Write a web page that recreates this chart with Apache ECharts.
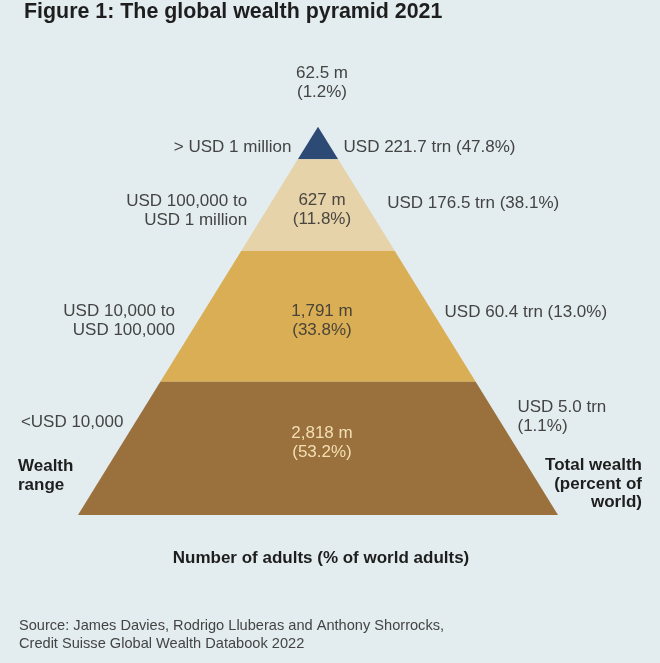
<!DOCTYPE html>
<html lang="en">
  <head>
    <meta charset="UTF-8" />
    <title>The global wealth pyramid 2021</title>
    <script src="https://cdn.jsdelivr.net/npm/echarts@6/dist/echarts.min.js"></script>
    <style>
      html, body { margin: 0; padding: 0; background: #e3ecef; }
      #chart { width: 660px; height: 663px; }
    </style>
  </head>
  <body>
    <div id="chart"></div>
    <script>
      // data (top layer first)
      var wealthRange = ['> USD 1 million', 'USD 100,000 to\nUSD 1 million', 'USD 10,000 to\nUSD 100,000', '<USD 10,000'];
      var adultsM = [62.5, 627, 1791, 2818];
      var adultsPct = [1.2, 11.8, 33.8, 53.2];
      var wealthTrn = [221.7, 176.5, 60.4, 5.0];
      var wealthPct = [47.8, 38.1, 13.0, 1.1];
      // depth of each layer, % of the pyramid height
      var layerDepth = [8.4, 23.6, 33.7, 34.3];

      // styling per layer
      var layerColor = ['#2c4a73', '#e6d3a9', '#d9ae55', '#9a713d'];
      var innerColor = ['#444444', '#4a4640', '#4a4438', '#f3dfb5'];
      var layout = {
        leftGap: [14, 19, 23, 12],
        rightGap: [13, 22, 12, 20],
        leftDy: [4, 5.5, 4.7, -26.3],
        centerDy: [0, 4.5, 4.7, -5.8],
        rightDy: [4, -2, -4.3, -31.3],
        rightBreak: [false, false, false, true]
      };

      var font = '"Liberation Sans", Arial, sans-serif';
      var rows = [];
      var acc = 0;
      for (var i = 0; i < layerDepth.length; i++) {
        rows.push([acc, acc + layerDepth[i]]);
        acc += layerDepth[i];
      }

      function txt(x, y, text, align, color, weight) {
        return {
          type: 'text',
          x: x,
          y: y,
          style: {
            text: text,
            fill: color,
            fontFamily: font,
            fontSize: 17,
            fontWeight: weight || 'normal',
            lineHeight: 19,
            align: align,
            verticalAlign: 'middle'
          }
        };
      }

      function renderItem(params, api) {
        var i = params.dataIndex;
        var top = api.value(0);
        var bot = api.value(1);
        var apex = api.coord([0, 0]);
        var baseL = api.coord([-1, 100]);
        var tl = api.coord([-top / 100, top]);
        var tr = api.coord([top / 100, top]);
        var br = api.coord([bot / 100, bot]);
        var bl = api.coord([-bot / 100, bot]);
        var slope = (apex[0] - baseL[0]) / (baseL[1] - apex[1]);
        var mid = (tl[1] + bl[1]) / 2;
        var cx = apex[0] + 4;

        var ly = mid + layout.leftDy[i];
        var ry = mid + layout.rightDy[i];
        var lx = apex[0] - slope * (ly - apex[1]) - layout.leftGap[i];
        var rx = apex[0] + slope * (ry - apex[1]) + layout.rightGap[i];

        var adults = adultsM[i].toLocaleString('en-US') + ' m\n(' + adultsPct[i].toFixed(1) + '%)';
        var wealth = 'USD ' + wealthTrn[i].toFixed(1) + ' trn' + (layout.rightBreak[i] ? '\n' : ' ') +
          '(' + wealthPct[i].toFixed(1) + '%)';

        var cy = i === 0 ? apex[1] - 44 : mid + layout.centerDy[i];
        var children = [
          {
            type: 'polygon',
            shape: { points: [tl, tr, br, bl] },
            style: { fill: layerColor[i] }
          },
          txt(cx, cy, adults, 'center', i === 0 ? '#444444' : innerColor[i]),
          txt(lx, ly, wealthRange[i], 'right', '#444444'),
          txt(rx, ry, wealth, 'left', '#444444')
        ];
        return { type: 'group', children: children };
      }

      var chart = echarts.init(document.getElementById('chart'));
      chart.setOption({
        backgroundColor: '#e3ecef',
        animation: false,
        title: {
          text: 'Figure 1: The global wealth pyramid 2021',
          left: 19,
          top: -3,
          textStyle: { fontFamily: font, fontSize: 21.4, fontWeight: 'bold', color: '#1e1e1e' }
        },
        grid: { left: 78, right: 102, top: 126.7, bottom: 148 },
        xAxis: { type: 'value', min: -1, max: 1, show: false },
        yAxis: { type: 'value', min: 0, max: 100, inverse: true, show: false },
        series: [
          {
            type: 'custom',
            renderItem: renderItem,
            data: rows,
            encode: { x: -1, y: [0, 1] },
            silent: true
          }
        ],
        graphic: [
          {
            type: 'text', x: 18, y: 475.5,
            style: { text: 'Wealth\nrange', verticalAlign: 'middle', fontFamily: font, fontSize: 17, fontWeight: 'bold', lineHeight: 19, fill: '#1e1e1e' }
          },
          {
            type: 'text', x: 642, y: 484,
            style: { text: 'Total wealth\n(percent of\nworld)', align: 'right', verticalAlign: 'middle', fontFamily: font, fontSize: 17, fontWeight: 'bold', lineHeight: 18.5, fill: '#1e1e1e' }
          },
          {
            type: 'text', x: 321, y: 558,
            style: { text: 'Number of adults (% of world adults)', align: 'center', verticalAlign: 'middle', fontFamily: font, fontSize: 17, fontWeight: 'bold', fill: '#1e1e1e' }
          },
          {
            type: 'text', x: 19, y: 635,
            style: { text: 'Source: James Davies, Rodrigo Lluberas and Anthony Shorrocks,\nCredit Suisse Global Wealth Databook 2022', verticalAlign: 'middle', fontFamily: font, fontSize: 14.6, lineHeight: 18.5, fill: '#444444' }
          }
        ]
      });
    </script>
  </body>
</html>
